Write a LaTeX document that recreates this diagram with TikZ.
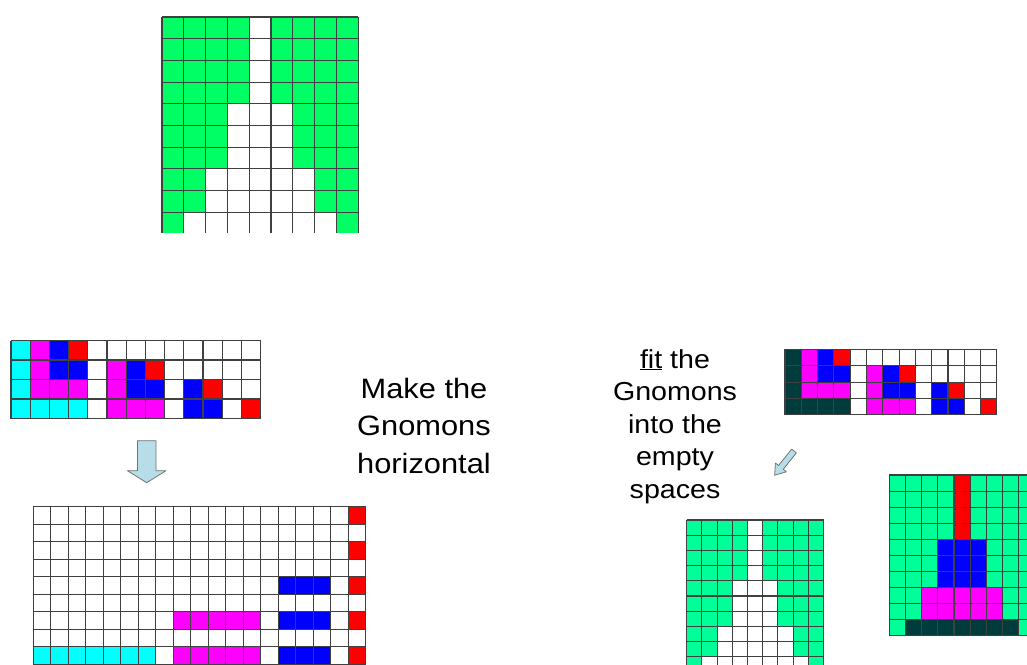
\documentclass[tikz,border=0pt]{standalone}
\usepackage{fontspec}
\newfontfamily\labelfont[FakeStretch=1.1]{Liberation Sans}

\definecolor{gnomgreen}{RGB}{0,255,100}
\definecolor{gnommint}{RGB}{0,255,153}
\definecolor{gnomcyan}{RGB}{0,255,255}
\definecolor{gnommagenta}{RGB}{255,0,255}
\definecolor{gnomblue}{RGB}{0,0,255}
\definecolor{gnomred}{RGB}{255,0,0}
\definecolor{gnomteal}{RGB}{0,60,60}
\definecolor{arrowfill}{RGB}{183,222,232}

\tikzset{
  gridline/.style={draw=black!75, line width=1.1pt},
  blockarrow/.style={fill=arrowfill, draw=black!55, line width=0.8pt, line join=round},
  labeltext/.style={align=center, inner sep=0pt, anchor=north}
}

% lines of a grid with #1 columns and #2 rows
\newcommand{\cellgrid}[2]{%
  \foreach \i in {0,...,#1} \draw[gridline] (\i,0) -- (\i,#2);
  \foreach \j in {0,...,#2} \draw[gridline] (0,\j) -- (#1,\j);
}

% the four gnomons side by side, the largest one in colour #1
\newcommand{\gnomonset}[1]{%
  \fill[#1] (0,0) rectangle (1,4) (1,3) rectangle (4,4);
  \fill[gnommagenta] (1,0) rectangle (2,3) (2,2) rectangle (4,3);
  \fill[gnomblue] (2,0) rectangle (3,2) (3,1) rectangle (4,2);
  \fill[gnomred] (3,0) rectangle (4,1);
  \fill[gnommagenta] (5,1) rectangle (6,4) (6,3) rectangle (8,4);
  \fill[gnomblue] (6,1) rectangle (7,3) (7,2) rectangle (8,3);
  \fill[gnomred] (7,1) rectangle (8,2);
  \fill[gnomblue] (9,2) rectangle (10,4) (10,3) rectangle (11,4);
  \fill[gnomred] (10,2) rectangle (11,3);
  \fill[gnomred] (12,3) rectangle (13,4);
  \cellgrid{13}{4}
}

% block arrow: start, angle, length, shaft half width, head half width, head length
\newcommand{\blockarrow}[6]{%
  \begin{scope}[shift={#1}, rotate=#2]
    \draw[blockarrow] (0,-#4) -- (#3-#6,-#4) -- (#3-#6,-#5) -- (#3,0)
      -- (#3-#6,#5) -- (#3-#6,#4) -- (0,#4) -- cycle;
  \end{scope}
}

\begin{document}
\begin{tikzpicture}[x=1pt, y=-1pt]
  \useasboundingbox (0,0) rectangle (1027,664);
  \clip (0,0) rectangle (1027,664);
  \fill[white] (0,0) rectangle (1027,664);

  % tower with empty spaces
  \begin{scope}[shift={(162,17)}, x=21.8pt, y=-21.7pt]
    \clip (-0.1,-0.1) rectangle (9.1,9.92);
    \fill[gnomgreen] (0,0) rectangle (9,10);
    \fill[white] (4,0) rectangle (5,4) (3,4) rectangle (6,7)
      (2,7) rectangle (7,9) (1,9) rectangle (8,10);
    \cellgrid{9}{10}
  \end{scope}

  % gnomons, left
  \begin{scope}[shift={(11,340.5)}, x=19.2pt, y=-19.5pt]
    \gnomonset{gnomcyan}
  \end{scope}

  \blockarrow{(146.7,440.7)}{-90}{42}{9.3}{19.3}{12}

  % gnomons made horizontal
  \begin{scope}[shift={(33.3,506.7)}, x=17.5pt, y=-17.5pt]
    \foreach \j in {0,2,4,6,8} \fill[gnomred] (18,\j) rectangle (19,\j+1);
    \foreach \j in {4,6,8} \fill[gnomblue] (14,\j) rectangle (17,\j+1);
    \foreach \j in {6,8} \fill[gnommagenta] (8,\j) rectangle (13,\j+1);
    \fill[gnomcyan] (0,8) rectangle (7,9);
    \cellgrid{19}{9}
  \end{scope}

  \node[labeltext, font={\labelfont\fontsize{28}{37.5}\selectfont}]
    (maketext) at (424,378) {Make the\\Gnomons\\horizontal};
  \node[labeltext, font={\labelfont\fontsize{26}{32.5}\selectfont}]
    (fittext) at (675,349) {\underline{fit} the\\Gnomons\\into the\\empty\\spaces};

  % gnomons, right
  \begin{scope}[shift={(785,349.3)}, x=16.3pt, y=-16.4pt]
    \gnomonset{gnomteal}
  \end{scope}

  \blockarrow{(794,451)}{-128.7}{31}{3}{7}{10}

  % empty tower
  \begin{scope}[shift={(686.7,520)}, x=15.2pt, y=-15.2pt]
    \fill[gnommint] (0,0) rectangle (9,10);
    \fill[white] (4,0) rectangle (5,4) (3,4) rectangle (6,7)
      (2,7) rectangle (7,9) (1,9) rectangle (8,10);
    \cellgrid{9}{10}
  \end{scope}

  % tower filled with the gnomons
  \begin{scope}[shift={(889.3,475)}, x=16.17pt, y=-16.07pt]
    \fill[gnommint] (0,0) rectangle (9,10);
    \fill[gnomred] (4,0) rectangle (5,4);
    \fill[gnomblue] (3,4) rectangle (6,7);
    \fill[gnommagenta] (2,7) rectangle (7,9);
    \fill[gnomteal] (1,9) rectangle (8,10);
    \cellgrid{9}{10}
  \end{scope}
\end{tikzpicture}
\end{document}
